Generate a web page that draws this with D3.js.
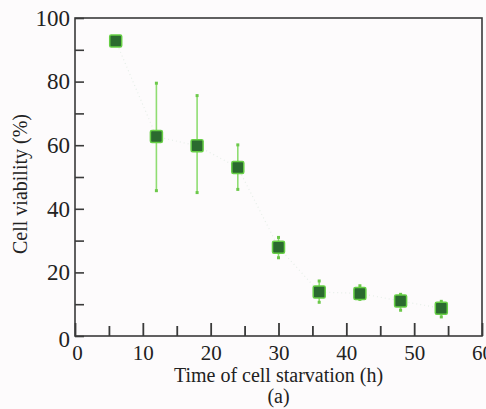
<!DOCTYPE html>
<html><head><meta charset="utf-8">
<script src="https://cdn.jsdelivr.net/npm/d3@7"></script>
<style>body{margin:0;background:#fdfbfc;}svg{display:block;}</style>
</head><body>
<script>
const times = [6, 12, 18, 24, 30, 36, 42, 48, 54];
const viability = [92.8, 62.7, 59.8, 53.0, 27.9, 13.8, 13.4, 11.0, 8.7];
const errUpper = [92.8, 79.5, 75.6, 60.1, 31.0, 17.3, 15.8, 13.1, 10.9];
const errLower = [92.8, 45.7, 45.1, 46.1, 24.6, 10.6, 11.5, 8.1, 6.0];
const xMajorTicks = [0, 10, 20, 30, 40, 50, 60];
const xMinorTicks = [5, 15, 25, 35, 45, 55];
const yMajorTicks = [0, 20, 40, 60, 80, 100];
const yMinorTicks = [10, 30, 50, 70, 90];

const W = 486, H = 409;
const m = {left: 75, right: 3, top: 18, bottom: 73};
const svg = d3.select("body").append("svg").attr("width", W).attr("height", H);
svg.append("rect").attr("width", W).attr("height", H).attr("fill", "#fdfbfc");

const x = d3.scaleLinear().domain([0, 60]).range([m.left, 482]);
const y = d3.scaleLinear().domain([0, 100]).range([336, m.top]);

const data = times.map((t, i) => ({t, v: viability[i], hi: errUpper[i], lo: errLower[i]}));
const axisColor = "#3a3a3a";
const FONT = '"Liberation Serif"';

// frame
svg.append("rect").attr("x", x(0)).attr("y", y(100)).attr("width", x(60) - x(0)).attr("height", y(0) - y(100))
  .attr("fill", "none").attr("stroke", axisColor).attr("stroke-width", 1.6);

// x axis ticks
const gx = svg.append("g").attr("transform", `translate(0,${y(0)})`);
gx.call(d3.axisBottom(x).tickValues(xMajorTicks).tickSizeInner(-13).tickSizeOuter(0).tickPadding(9).tickFormat(d3.format("d")));
const gxm = svg.append("g").attr("transform", `translate(0,${y(0)})`);
gxm.call(d3.axisBottom(x).tickValues(xMinorTicks).tickSizeInner(-10).tickSizeOuter(0).tickFormat(""));
[gx, gxm].forEach(g => { g.select(".domain").remove(); g.selectAll("line").attr("stroke", axisColor).attr("stroke-width", 1.8); });
gx.selectAll("text").style("font-family", FONT).style("font-size", "21px").attr("fill", "#222");

// y axis ticks
const gy = svg.append("g").attr("transform", `translate(${x(0)},0)`);
gy.call(d3.axisLeft(y).tickValues(yMajorTicks).tickSizeInner(-9).tickSizeOuter(0).tickPadding(5).tickFormat(d3.format("d")));
const gym = svg.append("g").attr("transform", `translate(${x(0)},0)`);
gym.call(d3.axisLeft(y).tickValues(yMinorTicks).tickSizeInner(-9).tickSizeOuter(0).tickFormat(""));
[gy, gym].forEach(g => { g.select(".domain").remove(); g.selectAll("line").attr("stroke", axisColor).attr("stroke-width", 1.6); });
gy.selectAll("text").style("font-family", FONT).style("font-size", "23px").attr("fill", "#222");
gy.selectAll(".tick").filter(d => d === 0).select("text").attr("dy", "0.45em");
gx.selectAll(".tick").filter(d => d === 0).select("text").attr("dx", "0.1em");

// connecting dotted line
svg.append("path").datum(data)
  .attr("d", d3.line().x(d => x(d.t)).y(d => y(d.v)))
  .attr("fill", "none").attr("stroke", "#e6eee8").attr("stroke-width", 1.2).attr("stroke-dasharray", "1,3");

// error bars
const eb = svg.append("g");
data.forEach(d => {
  if (d.hi === d.lo) return;
  eb.append("line").attr("x1", x(d.t)).attr("x2", x(d.t)).attr("y1", y(d.hi)).attr("y2", y(d.lo))
    .attr("stroke", "#8fdd72").attr("stroke-width", 1.6);
  [d.hi, d.lo].forEach(v => eb.append("rect").attr("x", x(d.t) - 1.5).attr("y", y(v) - 1.5).attr("width", 3).attr("height", 3).attr("fill", "#6cc84a"));
});

// markers
svg.append("g").selectAll("rect").data(data).join("rect")
  .attr("x", d => x(d.t) - 6).attr("y", d => y(d.v) - 6).attr("width", 12).attr("height", 12)
  .attr("rx", 1.5)
  .attr("fill", "#2b6a2f").attr("stroke", "#66cf45").attr("stroke-width", 1.5);

// titles
svg.append("text").attr("x", (x(0) + x(60)) / 2).attr("y", 382).attr("text-anchor", "middle")
  .style("font-family", FONT).style("font-size", "20px").attr("fill", "#222").text("Time of cell starvation (h)");
svg.append("text").attr("x", (x(0) + x(60)) / 2).attr("y", 403).attr("text-anchor", "middle")
  .style("font-family", FONT).style("font-size", "20px").attr("fill", "#222").text("(a)");
svg.append("text").attr("transform", `translate(27,${(y(0)+y(100))/2 + 7}) rotate(-90)`).attr("text-anchor", "middle")
  .style("font-family", FONT).style("font-size", "20px").attr("fill", "#222").text("Cell viability (%)");
</script>
</body></html>
